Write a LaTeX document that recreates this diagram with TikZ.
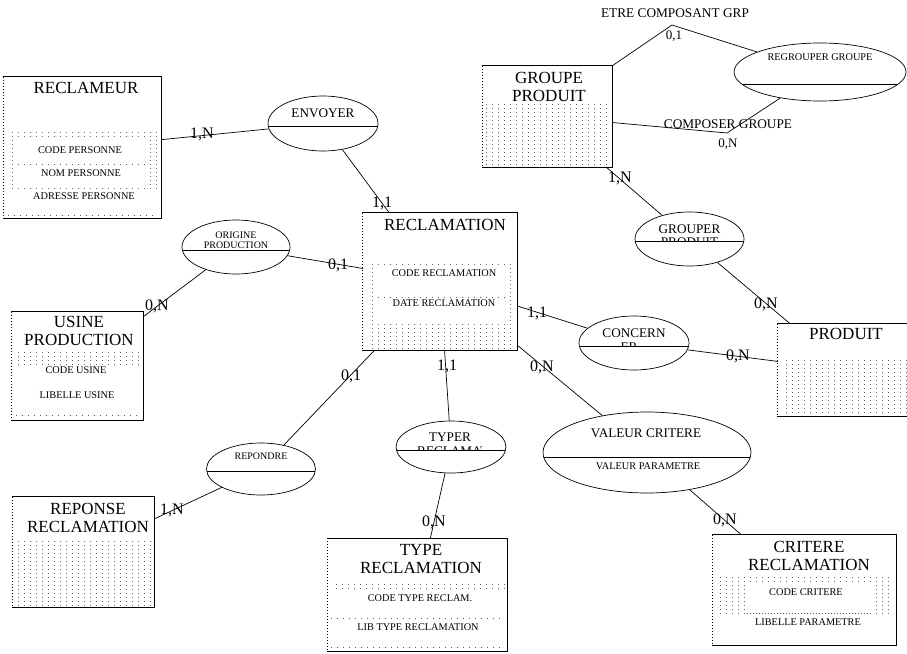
\documentclass[tikz,border=0pt]{standalone}
\usepackage{fontspec}
\setmainfont{Liberation Serif}
\usetikzlibrary{shapes.geometric,patterns}
\pgfdeclarepatternformonly{erdots}{\pgfpointorigin}{\pgfqpoint{6pt}{4pt}}{\pgfqpoint{6pt}{4pt}}{%
  \pgfpathrectangle{\pgfpointorigin}{\pgfqpoint{1pt}{1pt}}\pgfusepath{fill}}
\begin{document}
\begin{tikzpicture}[x=1pt,y=-1pt,
  boxline/.style={line width=0.8pt, line cap=rect},
  entity/.style={rectangle, inner sep=0pt,
    append after command={
      (\tikzlastnode.south west) edge[boxline] (\tikzlastnode.south east)
      (\tikzlastnode.south east) edge[boxline] (\tikzlastnode.north east)
      (\tikzlastnode.north east) edge[boxline] (\tikzlastnode.north west)
      (\tikzlastnode.north west) edge[boxline, line cap=butt, dash pattern=on 1pt off 2pt] (\tikzlastnode.south west)}},
  assoc/.style={ellipse, draw, line width=0.7pt, inner sep=0pt,
    path picture={\draw[line width=0.7pt] ([yshift=-#1]path picture bounding box.west) -- ([yshift=-#1]path picture bounding box.east);}},
  link/.style={line width=0.7pt},
  dotfill/.style={pattern=erdots, pattern color=black!60},
  dotrow/.style={line width=0.9pt, black!65, dash pattern=on 1pt off 5pt},
  etitle/.style={font=\fontsize{17}{18}\selectfont, inner sep=0pt, align=center},
  attr/.style={font=\fontsize{10.3}{11}\selectfont, inner sep=0pt},
  atext/.style={font=\fontsize{13.2}{15}\selectfont, inner sep=0pt, align=center},
  asmall/.style={font=\fontsize{10}{10.5}\selectfont, inner sep=0pt, align=center},
  card/.style={font=\fontsize{16}{16}\selectfont, inner sep=0pt},
  cardsmall/.style={font=\fontsize{13}{13}\selectfont, inner sep=0pt},
  role/.style={font=\fontsize{13.3}{14}\selectfont, inner sep=0pt}]
\useasboundingbox (0,0) rectangle (907,653);

% entities
\fill[dotfill] (10,130) rectangle (157,188);
\fill[white] (18,140) rectangle (146,186);
\draw[dotrow] (18,164) -- (146,164);
\draw[dotrow] (8,215) -- (157,215);
\node[entity, minimum width=157, minimum height=141] (reclameur) at (82.5,147.5){};
\node[etitle] (reclameurT) at (86,88){RECLAMEUR};
\node[attr] (reclameurA1) at (80,150){CODE PERSONNE};
\node[attr] (reclameurA2) at (81,173){NOM PERSONNE};
\node[attr] (reclameurA3) at (84,196){ADRESSE PERSONNE};

\fill[dotfill] (368,264) rectangle (513,348);
\fill[white] (378,268) rectangle (505,323);
\draw[dotrow] (378,297) -- (505,297);
\node[entity, minimum width=154, minimum height=137] (reclamation) at (440,281.5){};
\node[etitle] (reclamationT) at (445,225){RECLAMATION};
\node[attr] (reclamationA1) at (444,273){CODE RECLAMATION};
\node[attr] (reclamationA2) at (444,303){DATE RECLAMATION};

\fill[dotfill] (16,352) rectangle (140,364);
\draw[dotrow] (16,415) -- (140,415);
\node[entity, minimum width=131, minimum height=108] (usine) at (77.5,366){};
\node[etitle] (usineT) at (79,331){USINE\\PRODUCTION};
\node[attr] (usineA1) at (76,370){CODE USINE};
\node[attr] (usineA2) at (77,395){LIBELLE USINE};

\fill[dotfill] (16,538) rectangle (151,605);
\node[entity, minimum width=141, minimum height=110] (reponse) at (83.5,552){};
\node[etitle] (reponseT) at (88,517.5){REPONSE\\RECLAMATION};

\fill[dotfill] (331,582) rectangle (505,590);
\draw[dotrow] (331,618) -- (505,618);
\draw[dotrow] (331,647) -- (505,647);
\node[entity, minimum width=179, minimum height=113] (typerecl) at (417.5,595){};
\node[etitle] (typereclT) at (421,559){TYPE\\RECLAMATION};
\node[attr] (typereclA1) at (420,598){CODE TYPE RECLAM.};
\node[attr] (typereclA2) at (418,627){LIB TYPE RECLAMATION};

\fill[dotfill] (716,576) rectangle (893,613);
\fill[white] (747,582) rectangle (873,611);
\draw[dotrow] (747,613) -- (873,613);
\node[entity, minimum width=183, minimum height=110] (critere) at (804.5,590){};
\node[etitle] (critereT) at (809,556){CRITERE\\RECLAMATION};
\node[attr] (critereA1) at (806,592){CODE CRITERE};
\node[attr] (critereA2) at (808,622){LIBELLE PARAMETRE};

\fill[dotfill] (781,359) rectangle (908,414);
\node[entity, minimum width=134, minimum height=92] (produit) at (845,370){};
\node[etitle] (produitT) at (846,334){PRODUIT};

\fill[dotfill] (486,103) rectangle (610,165);
\node[entity, minimum width=129, minimum height=101] (groupe) at (547.5,116.5){};
\node[etitle] (groupeT) at (549,87){GROUPE\\PRODUIT};

% associations
\node[assoc=3pt, minimum width=110, minimum height=55] (envoyer) at (323,123.5){};
\node[atext] (envoyerT) at (323,113){ENVOYER};
\node[assoc=3pt, minimum width=108, minimum height=54] (origine) at (236,247){};
\node[asmall] (origineT) at (236,240){ORIGINE\\PRODUCTION};
\node[assoc=2pt, minimum width=109, minimum height=52] (repondre) at (261,469){};
\node[asmall] (repondreT) at (261,456){REPONDRE};
\node[assoc=3pt, minimum width=110, minimum height=52] (typer) at (451,447){};
\node[atext, anchor=base] (typerT) at (450,441.3){TYPER};
\begin{scope}
\clip (417,421) rectangle (481,450);
\node[atext, anchor=base west] (typerT2) at (417,455){RECLAMATION};
\end{scope}
\node[assoc=4.5pt, minimum width=208, minimum height=81] (valeur) at (647,452.5){};
\node[atext] (valeurT) at (646,433){VALEUR CRITERE};
\node[attr] (valeurA1) at (648,466){VALEUR PARAMETRE};
\node[assoc=3pt, minimum width=110, minimum height=54] (concerner) at (634,343){};
\node[atext, anchor=base] (concernerT) at (634,337.3){CONCERN};
\begin{scope}
\clip (579,316) rectangle (689,346);
\node[atext, anchor=base] (concernerT2) at (629,351.4){ER};
\end{scope}
\node[assoc=2pt, minimum width=109, minimum height=54] (grouper) at (689.5,239){};
\node[atext, anchor=base] (grouperT) at (689.5,233.4){GROUPER};
\begin{scope}
\clip (635,212) rectangle (745,241);
\node[atext, anchor=base] (grouperT2) at (689.5,246.7){PRODUIT};
\end{scope}
\node[assoc=12pt, minimum width=172, minimum height=58] (regrouper) at (820,72){};
\node[attr] (regrouperT) at (820,57){REGROUPER GROUPE};

% links
\draw[link] (reclameur) -- (envoyer);
\draw[link] (envoyer) -- (reclamation);
\draw[link] (origine) -- (reclamation);
\draw[link] (origine) -- (usine);
\draw[link] (reclamation) -- (repondre);
\draw[link] (repondre) -- (reponse);
\draw[link] (reclamation) -- (typer);
\draw[link] (typer) -- (typerecl);
\draw[link] (reclamation) -- (valeur);
\draw[link] (valeur) -- (critere);
\draw[link] (reclamation) -- (concerner);
\draw[link] (concerner) -- (produit);
\draw[link] (groupe) -- (grouper);
\draw[link] (grouper) -- (produit);
\coordinate (etrebend) at (672,25);
\coordinate (composerbend) at (727,133);
\draw[link] (groupe.north east) -- (etrebend) -- (regrouper);
\draw[link] ([yshift=-6pt]groupe.east) -- (composerbend) -- (regrouper);

% cardinalities
\node[card] (c1) at (202,134){1,N};
\node[card] (c2) at (382,203){1,1};
\node[card] (c3) at (338,265){0,1};
\node[card] (c4) at (157,306){0,N};
\node[card] (c5) at (351,376){0,1};
\node[card] (c6) at (172,510){1,N};
\node[card] (c7) at (447,366){1,1};
\node[card] (c8) at (434,522){0,N};
\node[card] (c9) at (542,367){0,N};
\node[card] (c10) at (725,520){0,N};
\node[card] (c11) at (537,313){1,1};
\node[card] (c12) at (738,356){0,N};
\node[card] (c13) at (766,304){0,N};
\node[card] (c14) at (620,178){1,N};
\node[cardsmall] (c15) at (674,36){0,1};
\node[cardsmall] (c16) at (728,144){0,N};
\node[role] (etreR) at (675,13){ETRE COMPOSANT GRP};
\node[role] (composerR) at (728,124){COMPOSER GROUPE};
\end{tikzpicture}
\end{document}
